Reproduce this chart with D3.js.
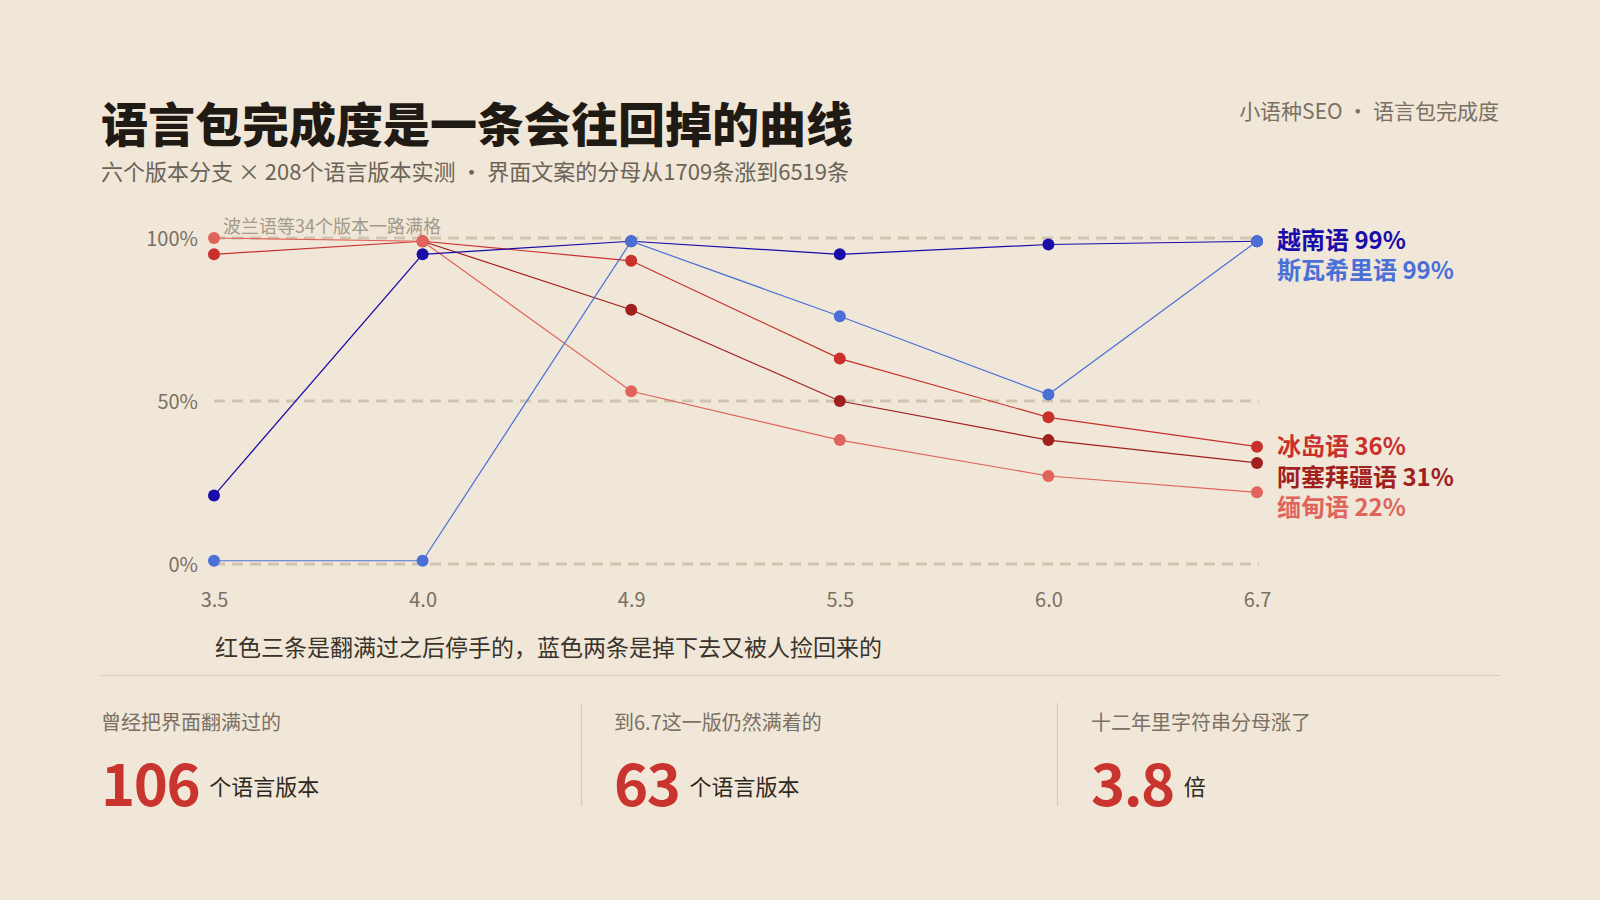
<!DOCTYPE html>
<html><head><meta charset="utf-8">
<script src="https://cdn.jsdelivr.net/npm/d3@7/dist/d3.min.js"></script>
<style>
html,body{margin:0;padding:0;background:#f0e7d8;}
svg{display:block;font-family:"Noto Sans CJK SC","Noto Sans",sans-serif;}
</style></head>
<body>
<svg id="chart" width="1600" height="900"></svg>
<script>
const versions = ["3.5","4.0","4.9","5.5","6.0","6.7"];
const yTicks = [0, 50, 100];
const seriesNames = ["阿塞拜疆语","冰岛语","缅甸语","越南语","斯瓦希里语"];
const azerbaijani = [null, 99, 78, 50, 38, 31];
const icelandic   = [95, 99, 93, 63, 45, 36];
const burmese     = [100, 99, 53, 38, 27, 22];
const vietnamese  = [21, 95, 99, 95, 98, 99];
const swahili     = [1, 1, 99, 76, 52, 99];
const seriesColors = ["#a21f1f","#c9302c","#e0645b","#1a0ca8","#4a70d8"];
const labelBaselines = [486, 455, 516, 249, 279];

const statLabels = ["曾经把界面翻满过的","到6.7这一版仍然满着的","十二年里字符串分母涨了"];
const statValues = ["106","63","3.8"];
const statUnits  = ["个语言版本","个语言版本","倍"];

const title = "语言包完成度是一条会往回掉的曲线";
const subtitle = "六个版本分支 × 208个语言版本实测 · 界面文案的分母从1709条涨到6519条";
const brand = "小语种SEO · 语言包完成度";
const note = "波兰语等34个版本一路满格";
const caption = "红色三条是翻满过之后停手的，蓝色两条是掉下去又被人捡回来的";

const seriesValues = [azerbaijani, icelandic, burmese, vietnamese, swahili];
const svg = d3.select("#chart");

const x = d3.scalePoint().domain(versions).range([214, 1257]);
const y = d3.scaleLinear().domain([0, 100]).range([564, 238]);

// header
svg.append("text").attr("x",101).attr("y",142).attr("font-size",47).attr("font-weight",900)
  .attr("fill","#1f1a14").text(title);
svg.append("text").attr("x",101).attr("y",180).attr("font-size",22).attr("fill","#6b6357").text(subtitle);
svg.append("text").attr("x",1499).attr("y",119).attr("text-anchor","end").attr("font-size",21)
  .attr("fill","#7a7064").text(brand);

// gridlines
svg.append("g").selectAll("line").data(yTicks).join("line")
  .attr("x1",214).attr("x2",1259).attr("y1",d=>y(d)).attr("y2",d=>y(d))
  .attr("stroke","#cfc5af").attr("stroke-width",3).attr("stroke-dasharray","11,7");

// y axis labels
const yAxis = d3.axisLeft(y).tickValues(yTicks).tickFormat(d=>d+"%").tickSize(0).tickPadding(0);
const yg = svg.append("g").attr("transform","translate(198,0)").call(yAxis);
yg.select(".domain").remove();
yg.selectAll("text").attr("font-size",20).attr("fill","#7a7064")
  .attr("font-family","'Noto Sans CJK SC',sans-serif").attr("dy","0.35em");

// x axis labels
const xAxis = d3.axisBottom(x).tickSize(0).tickPadding(0);
const xg = svg.append("g").attr("transform","translate(0,600)").call(xAxis);
xg.select(".domain").remove();
xg.selectAll("text").attr("font-size",20).attr("fill","#7a7064")
  .attr("font-family","'Noto Sans CJK SC',sans-serif").attr("dy","0.35em");

// annotation
svg.append("text").attr("x",223).attr("y",233).attr("font-size",18).attr("fill","#a39a89").text(note);

// lines
const line = d3.line().defined(d=>d.v!=null).x(d=>x(d.k)).y(d=>y(d.v));
seriesValues.forEach((vals,i)=>{
  const pts = versions.map((k,j)=>({k, v: vals[j]}));
  svg.append("path").datum(pts).attr("d",line).attr("fill","none")
    .attr("stroke",seriesColors[i]).attr("stroke-width",1.2);
  svg.append("g").selectAll("circle").data(pts.filter(p=>p.v!=null)).join("circle")
    .attr("cx",p=>x(p.k)).attr("cy",p=>y(p.v)).attr("r",6).attr("fill",seriesColors[i]);
});

// end labels
seriesValues.forEach((vals,i)=>{
  svg.append("text").attr("x",1277).attr("y",labelBaselines[i]).attr("font-size",24).attr("font-weight",700)
    .attr("fill",seriesColors[i]).text(seriesNames[i]+" "+vals[vals.length-1]+"%");
});

// caption
svg.append("text").attr("x",215).attr("y",656).attr("font-size",23).attr("fill","#3a332b").text(caption);

// rule
svg.append("line").attr("x1",101).attr("x2",1500).attr("y1",675.5).attr("y2",675.5)
  .attr("stroke","#d6ccba").attr("stroke-width",1.2);

// stats
const colX = [101, 614, 1091];
const divX = [581, 1057];
svg.append("g").selectAll("line").data(divX).join("line")
  .attr("x1",d=>d+0.5).attr("x2",d=>d+0.5).attr("y1",703).attr("y2",806)
  .attr("stroke","#d6ccba").attr("stroke-width",1.2);
statLabels.forEach((lab,i)=>{
  svg.append("text").attr("x",colX[i]).attr("y",730).attr("font-size",20).attr("fill","#7a7064").text(lab);
  const num = svg.append("text").attr("x",colX[i]).attr("y",806).attr("font-size",58).attr("font-weight",700)
    .attr("fill","#c9352e").attr("letter-spacing",-1.5).text(statValues[i]);
  const w = num.node().getComputedTextLength();
  svg.append("text").attr("x",colX[i]+w+10).attr("y",795).attr("font-size",22).attr("fill","#2e2820").text(statUnits[i]);
});
</script>
</body></html>
